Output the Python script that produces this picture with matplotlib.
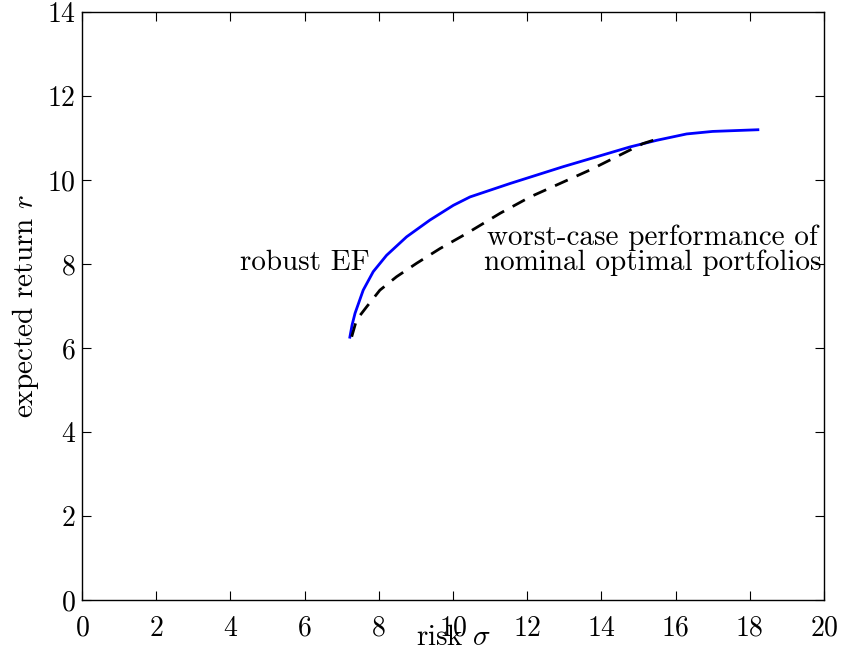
import numpy as np
import matplotlib
matplotlib.use("Agg")
import matplotlib.pyplot as plt

plt.rcParams['font.family'] = ['cmr10', 'DejaVu Serif']
plt.rcParams['mathtext.fontset'] = 'cm'
plt.rcParams['axes.formatter.use_mathtext'] = True
plt.rcParams['font.size'] = 21

# robust efficient frontier
robust_sigma = [7.22, 7.28, 7.36, 7.58, 7.85, 8.21, 8.75, 9.38, 10.01, 10.46,
                11.54, 12.97, 14.77, 15.50, 16.30, 17.00, 18.22]
robust_ret = [6.26, 6.55, 6.83, 7.38, 7.82, 8.21, 8.65, 9.05, 9.40, 9.60,
              9.92, 10.32, 10.79, 10.95, 11.10, 11.16, 11.20]

# worst-case performance of nominal optimal portfolios
nominal_sigma = [7.27, 7.40, 7.67, 8.03, 8.48, 9.02, 9.65, 10.37, 11.27,
                 12.08, 13.69, 15.12, 15.40]
nominal_ret = [6.27, 6.67, 6.98, 7.38, 7.70, 8.02, 8.37, 8.73, 9.21,
               9.60, 10.24, 10.87, 10.95]

fig = plt.figure(figsize=(8.44, 6.65), dpi=100)
ax = fig.add_axes([0.0972, 0.0977, 0.879, 0.884])

ax.plot(robust_sigma, robust_ret, color='#0000ff', lw=2)
ax.plot(nominal_sigma, nominal_ret, color='black', lw=2, ls=(0, (5, 3.5)))

ax.text(4.26, 7.86, 'robust EF', ha='left', va='baseline')
ax.text(15.38, 8.45, 'worst-case performance of', ha='center', va='baseline')
ax.text(15.38, 7.86, 'nominal optimal portfolios', ha='center', va='baseline')

ax.set_xlim(0, 20)
ax.set_ylim(0, 14)
ax.set_xticks(np.arange(0, 21, 2))
ax.set_yticks(np.arange(0, 15, 2))
ax.tick_params(direction='in', top=True, right=True, length=6.5, width=0.8,
               labelsize=20)
ax.tick_params(axis='x', pad=11)
ax.tick_params(axis='y', pad=4.5)
for s in ax.spines.values():
    s.set_linewidth(1.0)

ax.set_xlabel(r'risk $\sigma$')
ax.xaxis.set_label_coords(0.5, -0.042)
ax.set_ylabel(r'expected return $r$', labelpad=4)

fig.savefig('out.png', dpi=100)
